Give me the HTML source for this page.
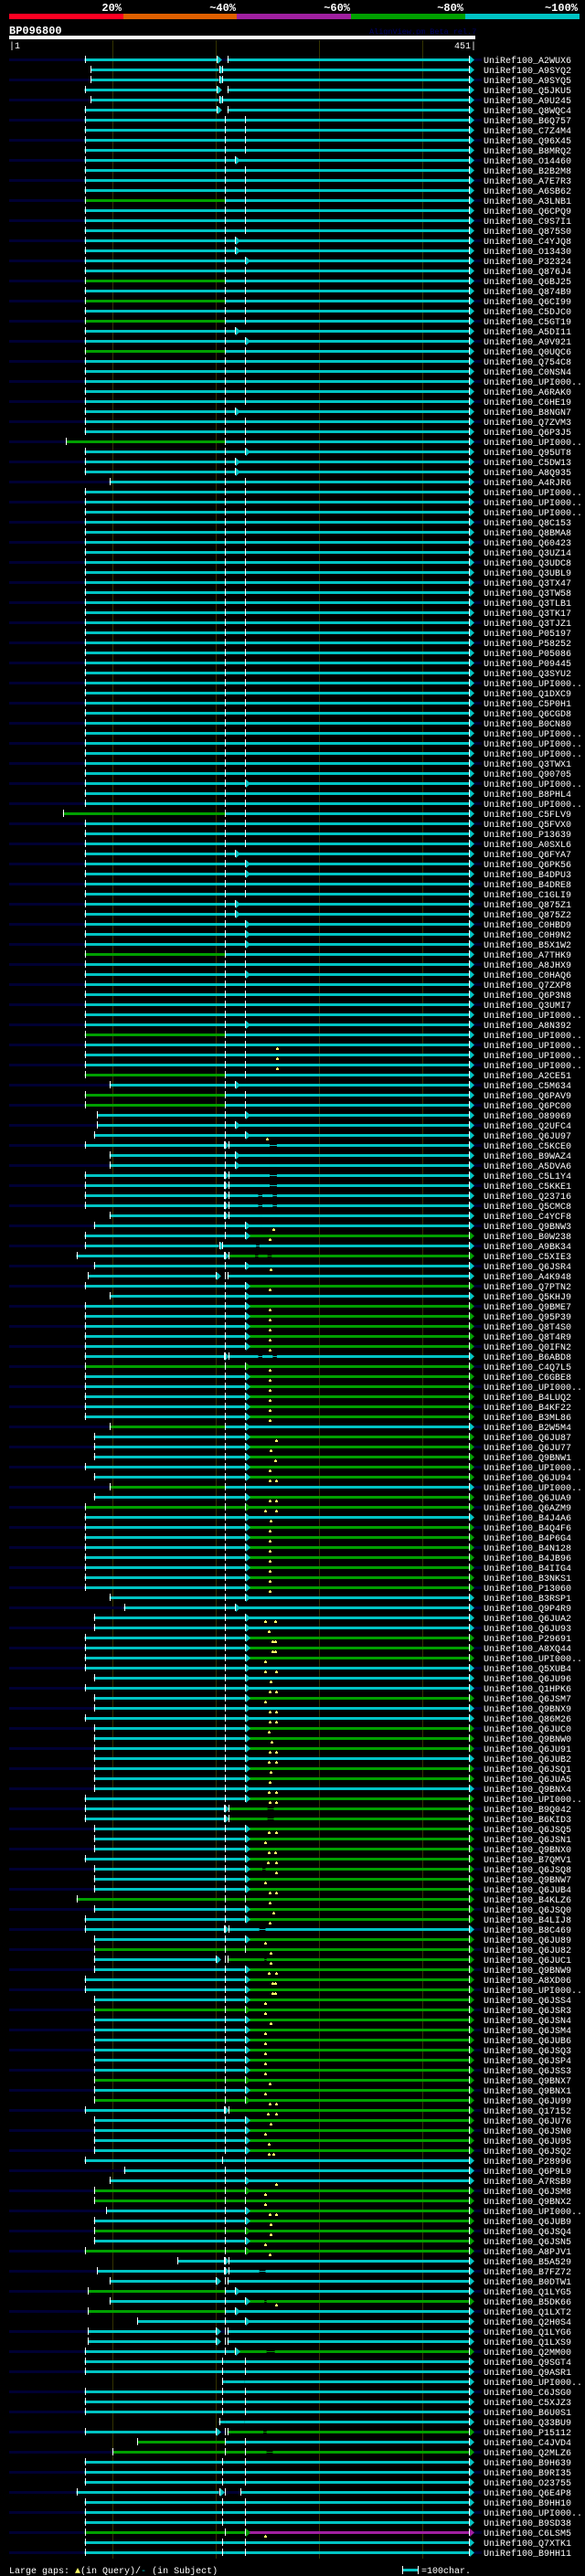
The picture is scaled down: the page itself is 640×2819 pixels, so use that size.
<!DOCTYPE html>
<html><head><meta charset="utf-8"><style>
html,body{margin:0;padding:0;background:#000;}
svg{display:block;}
text{font-family:"Liberation Mono",monospace;}
</style></head>
<body>
<svg id="chart" xmlns="http://www.w3.org/2000/svg" width="640" height="2819" viewBox="0 0 640 2819">
<rect x="0" y="0" width="640" height="2819" fill="#000"/>
<g>
<text x="133" y="12" fill="#fff" font-size="12" font-weight="bold" text-anchor="end">20%</text>
<text x="258" y="12" fill="#fff" font-size="12" font-weight="bold" text-anchor="end">~40%</text>
<text x="383" y="12" fill="#fff" font-size="12" font-weight="bold" text-anchor="end">~60%</text>
<text x="507" y="12" fill="#fff" font-size="12" font-weight="bold" text-anchor="end">~80%</text>
<text x="632" y="12" fill="#fff" font-size="12" font-weight="bold" text-anchor="end">~100%</text>
<rect x="10" y="15" width="125" height="6" fill="#ff0022"/>
<rect x="135" y="15" width="124" height="6" fill="#e06000"/>
<rect x="259" y="15" width="125" height="6" fill="#a020a0"/>
<rect x="384" y="15" width="125" height="6" fill="#00a000"/>
<rect x="509" y="15" width="125" height="6" fill="#00c4c4"/>
</g>
<text x="10" y="37" fill="#fff" font-size="12" font-weight="bold">BP096800</text>
<text x="404" y="37" fill="#000066" font-size="8.5">AlignView.pm Beta rel.7</text>
<rect x="10" y="39" width="510" height="4" fill="#fff"/>
<text x="10" y="53" fill="#fff" font-size="10">|1</text>
<text x="521" y="53" fill="#fff" font-size="10" text-anchor="end">451|</text>
<g id="grid"></g>
<g id="rows"></g>
<g>
<text x="10" y="2816" fill="#fff" font-size="10">Large gaps: <tspan fill="#ffff66">▲</tspan>(in Query)/<tspan fill="#00c4c4">-</tspan> (in Subject)</text>
<rect x="441" y="2811" width="16" height="3" fill="#00c4c4"/>
<rect x="440" y="2808" width="1" height="9" fill="#fff"/>
<rect x="457" y="2808" width="1" height="9" fill="#fff"/>
<text x="461" y="2816" fill="#fff" font-size="10">=100char.</text>
</g>
</svg>
<script>
const gridTicks = [100, 200, 300, 400];
const queryLength = 451;
const names = ["A2WUX6","A9SYQ2","A9SYQ5","Q5JKU5","A9U245","Q8WQC4","B6Q757","C7Z4M4","Q96X45","B8MRQ2",
"O14460","B2B2M8","A7E7R3","A6SB62","A3LNB1","Q6CPQ9","C9S7I1","Q875S0","C4YJQ8","O13430",
"P32324","Q876J4","Q6BJ25","Q874B9","Q6CI99","C5DJC0","C5GT19","A5DI11","A9V921","Q0UQC6",
"Q754C8","C0NSN4","UPI000..","A6RAK0","C6HE19","B8NGN7","Q7ZVM3","Q6P3J5","UPI000..","Q95UT8",
"C5DW13","A8Q935","A4RJR6","UPI000..","UPI000..","UPI000..","Q8C153","Q8BMA8","Q60423","Q3UZ14",
"Q3UDC8","Q3UBL9","Q3TX47","Q3TW58","Q3TLB1","Q3TK17","Q3TJZ1","P05197","P58252","P05086",
"P09445","Q3SYU2","UPI000..","Q1DXC9","C5P0H1","Q6CGD8","B0CN80","UPI000..","UPI000..","UPI000..",
"Q3TWX1","Q90705","UPI000..","B8PHL4","UPI000..","C5FLV9","Q5FVX0","P13639","A0SXL6","Q6FYA7",
"Q6PK56","B4DPU3","B4DRE8","C1GLI9","Q875Z1","Q875Z2","C0HBD9","C0H9N2","B5X1W2","A7THK9",
"A8JHX9","C0HAQ6","Q7ZXP8","Q6P3N8","Q3UMI7","UPI000..","A8N392","UPI000..","UPI000..","UPI000..",
"UPI000..","A2CE51","C5M634","Q6PAV9","Q6PC00","O89069","Q2UFC4","Q6JU97","C5KCE0","B9WAZ4",
"A5DVA6","C5L1Y4","C5KKE1","Q23716","Q5CMC8","C4YCF8","Q9BNW3","B0W238","A9BK34","C5XIE3",
"Q6JSR4","A4K948","Q7PTN2","Q5KHJ9","Q9BME7","Q95P39","Q8T4S0","Q8T4R9","Q0IFN2","B6ABD8",
"C4Q7L5","C6GBE8","UPI000..","B4LUQ2","B4KF22","B3ML86","B2W5M4","Q6JU87","Q6JU77","Q9BNW1",
"UPI000..","Q6JU94","UPI000..","Q6JUA9","Q6AZM9","B4J4A6","B4Q4F6","B4P6G4","B4N128","B4JB96",
"B4IIG4","B3NKS1","P13060","B3RSP1","Q9P4R9","Q6JUA2","Q6JU93","P29691","A8XQ44","UPI000..",
"Q5XUB4","Q6JU96","Q1HPK6","Q6JSM7","Q9BNX9","Q86M26","Q6JUC0","Q9BNW0","Q6JU91","Q6JUB2",
"Q6JSQ1","Q6JUA5","Q9BNX4","UPI000..","B9Q042","B6KID3","Q6JSQ5","Q6JSN1","Q9BNX0","B7QMV1",
"Q6JSQ8","Q9BNW7","Q6JUB4","B4KLZ6","Q6JSQ0","B4LIJ8","B8C469","Q6JU89","Q6JU82","Q6JUC1",
"Q9BNW9","A8XD06","UPI000..","Q6JSS4","Q6JSR3","Q6JSN4","Q6JSM4","Q6JUB6","Q6JSQ3","Q6JSP4",
"Q6JSS3","Q9BNX7","Q9BNX1","Q6JU99","Q17152","Q6JU76","Q6JSN0","Q6JU95","Q6JSQ2","P28996",
"Q6P9L9","A7RSB9","Q6JSM8","Q9BNX2","UPI000..","Q6JUB9","Q6JSQ4","Q6JSN5","A8PJV1","B5A529",
"B7FZ72","B0DTW1","Q1LYG5","B5DK66","Q1LXT2","Q2H0S4","Q1LYG6","Q1LXS9","Q2MM00","Q9SGT4",
"Q9ASR1","UPI000..","C6JSG0","C5XJZ3","B6U0S1","Q33BU9","P15112","C4JVD4","Q2MLZ6","B9H639",
"B9RI35","O23755","Q6E4P8","B9HH10","UPI000..","B9SD38","C6LSM5","Q7XTK1","B9HH11"];
// start(query pos) colors(A B C) type, then yellow gaps (query pos) / ~thin subject gaps
const specs = ["73 ccc x","79 ccc v","79 ccc v","73 ccc x","79 ccc v","73 ccc x","73 ccc t","73 ccc t","73 ccc t","73 ccc t",
"73 ccc a","73 ccc t","73 ccc t","73 ccc t","73 gcc t","73 ccc t","73 ccc t","73 ccc t","73 ccc a","73 ccc a",
"73 ccc b","73 ccc t","73 gcc t","73 ccc t","73 gcc t","73 ccc t","73 gcc t","73 ccc a","73 ccc b","73 gcc t",
"73 ccc t","73 ccc t","73 ccc t","73 ccc t","73 ccc t","73 ccc a","73 ccc t","73 ccc t","55 gcc t","73 ccc b",
"73 ccc a","73 ccc a","97 ccc t","73 ccc t","73 ccc t","73 ccc t","73 ccc t","73 ccc t","73 ccc t","73 ccc t",
"73 ccc t","73 ccc t","73 ccc t","73 ccc t","73 ccc t","73 ccc t","73 ccc t","73 ccc t","73 ccc t","73 ccc t",
"73 ccc t","73 ccc t","73 ccc t","73 ccc t","73 ccc t","73 ccc t","73 ccc t","73 ccc t","73 ccc t","73 ccc t",
"73 ccc t","73 ccc t","73 ccc b","73 ccc t","73 ccc t","52 gcc t","73 ccc t","73 ccc t","73 ccc t","73 ccc a",
"73 ccc b","73 ccc b","73 ccc t","73 ccc t","73 ccc a","73 ccc a","73 ccc b","73 ccc b","73 ccc b","73 gcc t",
"73 ccc t","73 ccc b","73 ccc t","73 ccc t","73 ccc t","73 ccc t","73 ccc b","73 gcc t","73 ccc t 259","73 ccc t 259",
"73 ccc t 259","73 gcc t","97 ccc a","73 gcc t","73 gcc t","85 ccc b","85 ccc a","82 ccc b 249","73 ccc y ~252-259","97 ccc a",
"97 ccc a","73 ccc y ~252-259","73 ccc y ~252-259","73 ccc y ~241-245 ~255-259","73 ccc y ~241-245 ~255-259","97 ccc y","82 ccc b 256","73 ccg b 252","73 ccc v ~239-242","65 cgg y ~238-241 ~250-254",
"82 ccc b 253","76 ccc z","73 ccg b 252","97 ccc b","73 ccg b 252","73 ccg b 252","73 ccg b 252","73 ccg b 252","73 ccg b 252","73 ccc y ~241-245 ~255-259",
"73 ggg b 252","73 ccg b 252","73 ccg b 252","73 ccg b 252","73 ccg b 252","73 ccg b 252","97 gcc b","82 ccg b 258","82 ccg b 253","82 ccg b 257",
"73 ccg b 252","82 ccg b 252 258","97 gcc t","82 ccg b 252 258","73 ggg b 248 258","73 ccc b 253","73 ccg b 252","73 ccg b 252","73 ccg b 252","73 ccg b 252",
"73 ccg b 252","73 ccg b 252","73 ccg b 252","97 ccc b","111 ccc a","82 ccc b 248 257","82 ccc b 251","73 ccg b 255 257","73 ccg b 255 257","73 ccg b 248",
"73 ccc b 248 258","82 ccc b 253","73 ccc b 252 258","82 ccg b 248","82 ccc b 252 258","73 ccc b 252 258","82 ccg b 251","82 ccg b 254","82 ccg b 252 258","82 ccc b 251 258",
"82 ccg b 253","82 ccg b 252","82 ccc b 251 258","73 ccg b 252 258","73 ccg y ~250-256","73 ccg y ~250-256","82 ccg b 251 258","82 ccg b 248","82 ccg b 251 257","73 ccg b 250 258",
"82 ccg b ~245-248 258","82 ccg b 248","82 ccg b 252 258","65 ggg t 252","82 ccg b 256","73 ccg b 252","73 ccc y ~242-248","82 ccg b 248","82 ggg t 253","82 cgg z ~247-249 253",
"82 ccg b 251 258","73 ccg b 255 257","73 ccg b 255 257","82 ccg b 248","82 ggg b 248","82 ccg b 253","82 ccg b 248","82 ccg b 248","82 ccg b 248","82 ccg b 248",
"82 ccg b 248","82 ggg b 252","82 ccg b 248","82 ggg b 252 258","73 cgg y 250 258","82 ccg b 253","82 ccg b 248","82 ccg b 251","82 ccg b 251 256","73 ccc u",
"111 ccc t","97 ccc b 258","82 ggg b 248","82 ggg t 248","94 ccg b 252 258","82 ccg b 253","82 ggg b 253","82 ccg b 248","73 ggg b 252","163 ccc y",
"85 ccc y ~242-248","97 ccc z","76 gcc a","97 ccg b ~247-249 258","76 gcc a","124 ccc b","76 ccc z","76 ccc z","73 ccg a ~249-257","73 ccc u",
"73 ccc u","206 ccc n","73 ccc u","73 ccc u","73 ccc u","203 ccc n","73 cgg z ~246-249","124 gcc t","100 ggg t ~249-255","73 ccc u",
"73 ccc u","73 ccc u","65 ccc w","73 ccc u","73 ccc u","73 ccc u","73 ggp b 248","73 ccc u","73 ccc u"];

const NS = "http://www.w3.org/2000/svg";
const COL = {c:"#00c4c4", g:"#00a000", p:"#a020a0"};
function xq(q){ return 10 + q * 510 / queryLength; }
function yr(i){ return 65 + 11 * i; }
function mk(parent, tag, attrs){
  const el = document.createElementNS(NS, tag);
  for (const k in attrs) el.setAttribute(k, attrs[k]);
  parent.appendChild(el);
  return el;
}
const grid = document.getElementById("grid");
gridTicks.forEach(function(t){
  const l = mk(grid, "rect", {x: Math.round(xq(t)), y: 44, width: 1, height: 2756, fill: "#333300"});
  
  
});
const rowsG = document.getElementById("rows");
function seg(g, a, b, y, color){
  if (b <= a) return;
  const r = mk(g, "rect", {x: xq(a).toFixed(1), y: y - 1, width: (xq(b) - xq(a)).toFixed(1), height: 3, fill: color});
  
  
}
function tick(g, q, y){
  const r = mk(g, "rect", {x: Math.round(xq(q)), y: y - 4, width: 1, height: 8, fill: "#fff"});
  
  
}
function arrow(g, q, y, color){
  const x = Math.round(xq(q));
  tick(g, q, y);
  const p = mk(g, "polygon", {points: (x+1)+","+(y-4)+" "+(x+6)+","+(y+0.5)+" "+(x+1)+","+(y+5), fill: color});
  
  
}
names.forEach(function(nm, i){
  const y = yr(i);
  const g = mk(rowsG, "g", {});
  
  
  if (i % 2 === 0) {
    const s = mk(g, "rect", {x: 10, y: y - 1, width: 517, height: 3, fill: "#000033"});
    
    
  }
  const parts = specs[i].split(" ");
  const st = +parts[0], cs = parts[1], type = parts[2];
  const A = COL[cs[0]], B = COL[cs[1]], C = COL[cs[2]];
  const END = 445;
  if (type === "t" || type === "b" || type === "u" || type === "n") {
    seg(g, st, Math.max(st, 209), y, A);
    seg(g, Math.max(st, 209), Math.max(st, 228), y, B);
    seg(g, Math.max(st, 228), END, y, C);
    if (type === "t" || type === "b") { if (st < 209) tick(g, 209, y); }
    if (type === "u") tick(g, 206, y);
    if (type === "t" || type === "u") tick(g, 228, y);
    if (type === "b") arrow(g, 228, y, B);
  } else if (type === "a") {
    seg(g, st, 209, y, A);
    seg(g, 209, 218, y, B);
    seg(g, 218, END, y, C);
    tick(g, 209, y);
    arrow(g, 218, y, B);
  } else {
    const cfg = {y:[208,212], z:[200,211], x:[201,211], v:[203,206], w:[203,224]}[type];
    seg(g, st, cfg[0], y, A);
    seg(g, cfg[1], END, y, C);
    arrow(g, cfg[0], y, A);
    tick(g, cfg[1], y);
    if (type !== "x" && type !== "v" && st < 209) tick(g, 209, y);
  }
  parts.slice(3).forEach(function(tok){
    if (tok[0] === "~") {
      const ab = tok.slice(1).split("-").map(Number);
      const blk = mk(g, "rect", {x: xq(ab[0]).toFixed(1), y: y - 1, width: (xq(ab[1]) - xq(ab[0])).toFixed(1), height: 3, fill: "#000"});
      
      
      const ln = mk(g, "rect", {x: xq(ab[0]).toFixed(1), y: y, width: (xq(ab[1]) - xq(ab[0])).toFixed(1), height: 1, fill: ab[0] >= 228 ? C : A});
      
      
    } else {
      const gx = Math.round(xq(+tok));
      const m = mk(g, "path", {d: "M"+gx+" "+(y+3)+"h1v1h1v2h-3v-2h1z", fill: "#ffff66"});
      
      
    }
  });
  tick(g, st, y);
  arrow(g, END, y, C);
  const t = mk(g, "text", {x: 529, y: y + 4, fill: "#fff", "font-size": 10});
  t.textContent = "UniRef100_" + nm;
  
  
});
</script>
</body></html>
